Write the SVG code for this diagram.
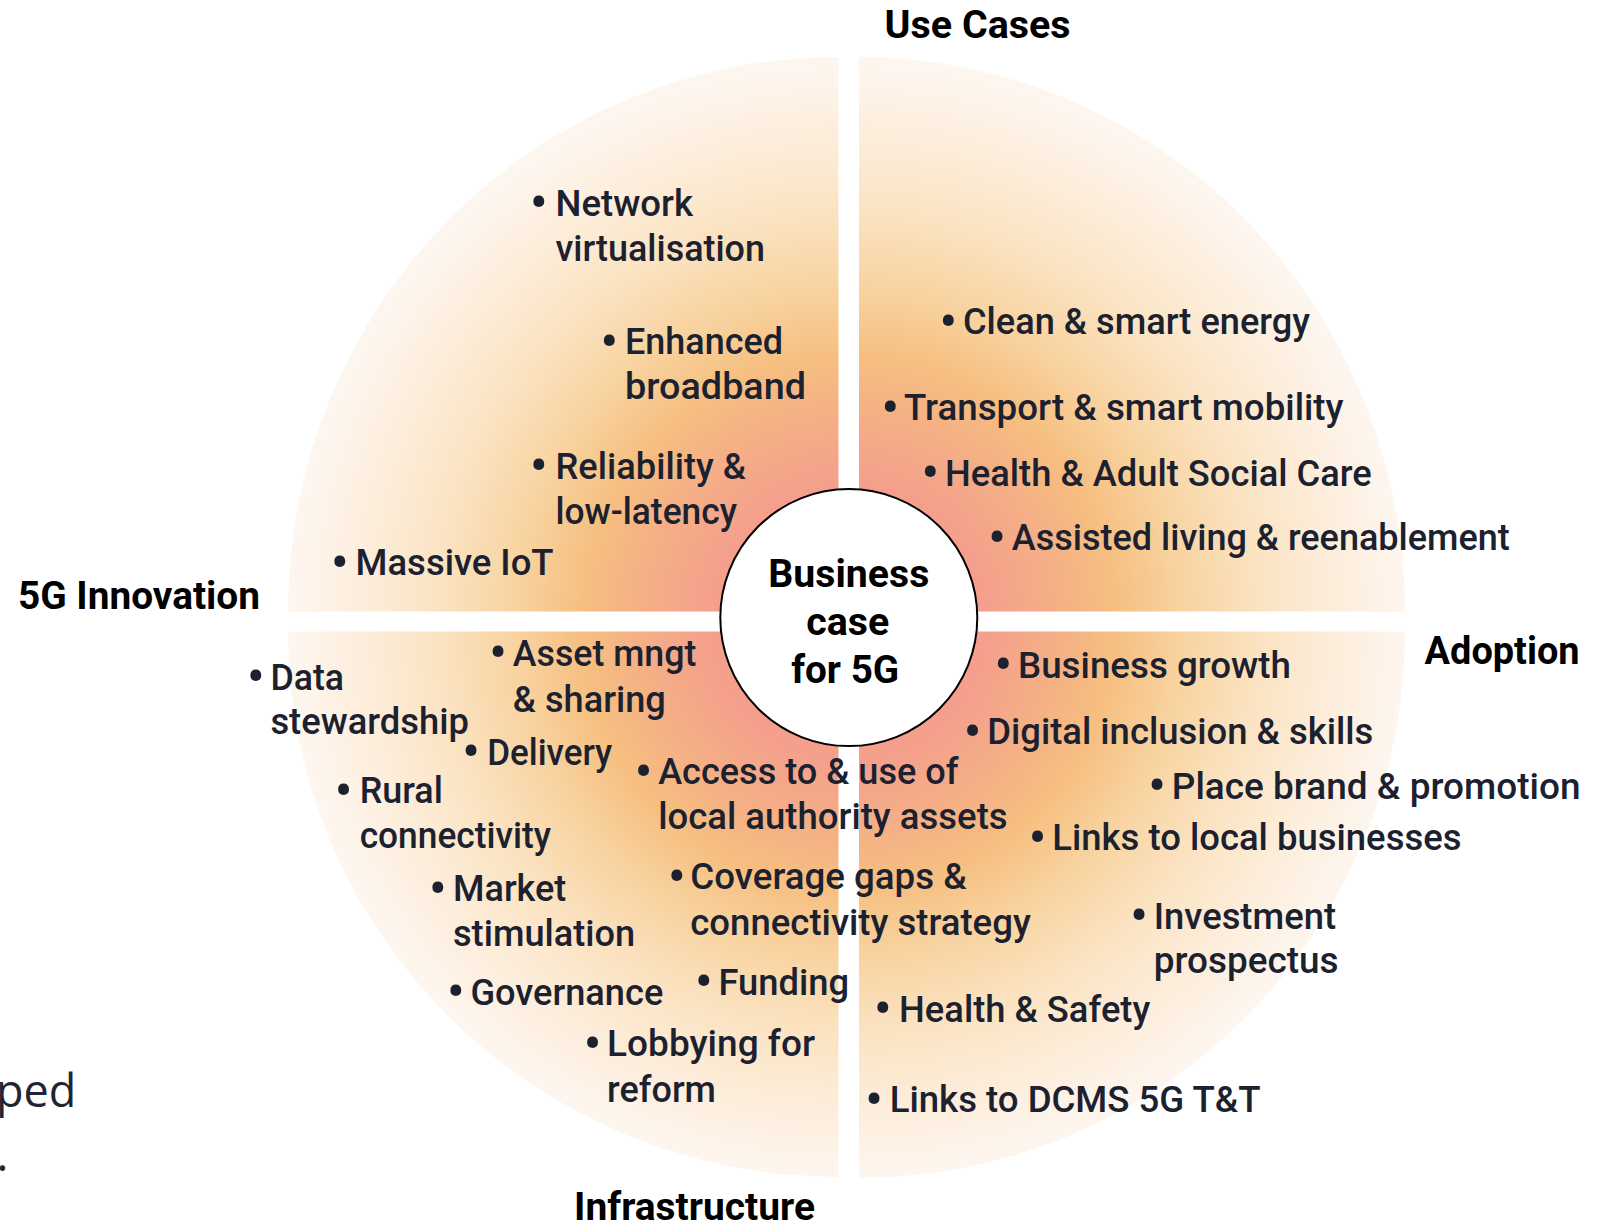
<svg xmlns="http://www.w3.org/2000/svg" width="1604" height="1225" viewBox="0 0 1604 1225">
<defs>
<radialGradient id="fan" gradientUnits="userSpaceOnUse" cx="849" cy="622" r="556">
<stop offset="0" stop-color="#f3968e"/>
<stop offset="0.25" stop-color="#f4a08c"/>
<stop offset="0.38" stop-color="#f5b085"/>
<stop offset="0.48" stop-color="#f6bf80"/>
<stop offset="0.6" stop-color="#f8d3a0"/>
<stop offset="0.75" stop-color="#fbe4c4"/>
<stop offset="0.9" stop-color="#fdefdf"/>
<stop offset="1" stop-color="#fdf6ef"/>
</radialGradient>
<style>
.t{font-family:Roboto,"Liberation Sans",sans-serif;font-size:36.5px;font-weight:500;fill:#1c2130}
.b{font-size:50px}
.h{font-family:Roboto,"Liberation Sans",sans-serif;font-size:38px;font-weight:bold;fill:#000}
.c{font-family:Roboto,"Liberation Sans",sans-serif;font-size:38px;font-weight:bold;fill:#000;text-anchor:middle}
.q{fill:url(#fan)}
.o{font-family:"Open Sans","Noto Sans",sans-serif;font-size:45px;fill:#1f2533}
</style>
</defs>
<rect width="1604" height="1225" fill="#fff"/>
<g id="quadrants">
<path id="q-innovation" class="q" d="M838.5,611.5 L288,611.5 A550.5,554.5 0 0 1 838.5,57 Z"/>
<path id="q-usecases" class="q" d="M859,611.5 L859,57 A546,554.5 0 0 1 1405,611.5 Z"/>
<path id="q-infrastructure" class="q" d="M838.5,631.5 L838.5,1177 A550.5,545.5 0 0 1 288,631.5 Z"/>
<path id="q-adoption" class="q" d="M859,631.5 L1405,631.5 A546,546.5 0 0 1 859,1178 Z"/>
</g>
<g id="connectors"/>
<g id="titles">
<text id="title-usecases" class="h" x="884.6" y="37.6" textLength="186" lengthAdjust="spacingAndGlyphs">Use Cases</text>
<text id="title-innovation" class="h" x="18" y="609" textLength="242" lengthAdjust="spacingAndGlyphs">5G Innovation</text>
<text id="title-adoption" class="h" x="1424.6" y="663.8" textLength="155" lengthAdjust="spacingAndGlyphs">Adoption</text>
<text id="title-infrastructure" class="h" x="574" y="1220" textLength="241" lengthAdjust="spacingAndGlyphs">Infrastructure</text>
</g>
<g id="innovation-items">
<g id="i-network"><text class="t"><tspan class="b" x="530" y="220.1">•</tspan><tspan x="555.5" y="215.5" textLength="137.5" lengthAdjust="spacingAndGlyphs">Network</tspan><tspan x="555.5" y="261" textLength="209.5" lengthAdjust="spacingAndGlyphs">virtualisation</tspan></text></g>
<g id="i-broadband"><text class="t"><tspan class="b" x="600.5" y="358.6">•</tspan><tspan x="625" y="354" textLength="158" lengthAdjust="spacingAndGlyphs">Enhanced</tspan><tspan x="625" y="399.4" textLength="181" lengthAdjust="spacingAndGlyphs">broadband</tspan></text></g>
<g id="i-reliability"><text class="t"><tspan class="b" x="530" y="483.1">•</tspan><tspan x="555.5" y="478.5" textLength="190.5" lengthAdjust="spacingAndGlyphs">Reliability &amp;</tspan><tspan x="555.5" y="524" textLength="181.5" lengthAdjust="spacingAndGlyphs">low-latency</tspan></text></g>
<g id="i-iot"><text class="t"><tspan class="b" x="331" y="579.6">•</tspan><tspan x="355.6" y="575" textLength="198" lengthAdjust="spacingAndGlyphs">Massive IoT</tspan></text></g>
</g>
<g id="usecase-items">
<g id="u-energy"><text class="t"><tspan class="b" x="939.5" y="338.6">•</tspan><tspan x="963" y="334" textLength="347" lengthAdjust="spacingAndGlyphs">Clean &amp; smart energy</tspan></text></g>
<g id="u-transport"><text class="t"><tspan class="b" x="881.5" y="424.6">•</tspan><tspan x="904" y="420" textLength="439.6" lengthAdjust="spacingAndGlyphs">Transport &amp; smart mobility</tspan></text></g>
<g id="u-health"><text class="t"><tspan class="b" x="921.5" y="490.2">•</tspan><tspan x="945" y="485.6" textLength="426.8" lengthAdjust="spacingAndGlyphs">Health &amp; Adult Social Care</tspan></text></g>
<g id="u-assisted"><text class="t"><tspan class="b" x="988.2" y="554.6">•</tspan><tspan x="1011.8" y="550" textLength="498" lengthAdjust="spacingAndGlyphs">Assisted living &amp; reenablement</tspan></text></g>
</g>
<g id="infrastructure-items">
<g id="f-data"><text class="t"><tspan class="b" x="247" y="694.3">•</tspan><tspan x="270.4" y="689.7" textLength="73.6" lengthAdjust="spacingAndGlyphs">Data</tspan><tspan x="270.4" y="733.5" textLength="198.6" lengthAdjust="spacingAndGlyphs">stewardship</tspan></text></g>
<g id="f-asset"><text class="t"><tspan class="b" x="489.3" y="670.4">•</tspan><tspan x="512.8" y="665.8" textLength="183.6" lengthAdjust="spacingAndGlyphs">Asset mngt</tspan><tspan x="512.8" y="711.6" textLength="153" lengthAdjust="spacingAndGlyphs">&amp; sharing</tspan></text></g>
<g id="f-delivery"><text class="t"><tspan class="b" x="462.3" y="769.2">•</tspan><tspan x="487.2" y="764.6" textLength="125" lengthAdjust="spacingAndGlyphs">Delivery</tspan></text></g>
<g id="f-rural"><text class="t"><tspan class="b" x="334.8" y="807.9">•</tspan><tspan x="359.7" y="803.3" textLength="83.2" lengthAdjust="spacingAndGlyphs">Rural</tspan><tspan x="359.7" y="848" textLength="191.3" lengthAdjust="spacingAndGlyphs">connectivity</tspan></text></g>
<g id="f-market"><text class="t"><tspan class="b" x="429.1" y="905.6">•</tspan><tspan x="453" y="901" textLength="113.3" lengthAdjust="spacingAndGlyphs">Market</tspan><tspan x="453" y="946" textLength="182.2" lengthAdjust="spacingAndGlyphs">stimulation</tspan></text></g>
<g id="f-governance"><text class="t"><tspan class="b" x="447" y="1009.1">•</tspan><tspan x="470.4" y="1004.5" textLength="192.9" lengthAdjust="spacingAndGlyphs">Governance</tspan></text></g>
<g id="f-access"><text class="t"><tspan class="b" x="634.8" y="788.6">•</tspan><tspan x="658.2" y="784" textLength="300.3" lengthAdjust="spacingAndGlyphs">Access to &amp; use of</tspan><tspan x="658.2" y="829" textLength="349.4" lengthAdjust="spacingAndGlyphs">local authority assets</tspan></text></g>
<g id="f-coverage"><text class="t"><tspan class="b" x="667.9" y="893.6">•</tspan><tspan x="690.3" y="889" textLength="276.4" lengthAdjust="spacingAndGlyphs">Coverage gaps &amp;</tspan><tspan x="690.3" y="934.8" textLength="340.5" lengthAdjust="spacingAndGlyphs">connectivity strategy</tspan></text></g>
<g id="f-funding"><text class="t"><tspan class="b" x="695" y="999.2">•</tspan><tspan x="718.4" y="994.6" textLength="130.6" lengthAdjust="spacingAndGlyphs">Funding</tspan></text></g>
<g id="f-lobbying"><text class="t"><tspan class="b" x="583.7" y="1061">•</tspan><tspan x="607.1" y="1056.4" textLength="207.9" lengthAdjust="spacingAndGlyphs">Lobbying for</tspan><tspan x="607.1" y="1102.2" textLength="108.9" lengthAdjust="spacingAndGlyphs">reform</tspan></text></g>
</g>
<g id="adoption-items">
<g id="a-growth"><text class="t"><tspan class="b" x="994.4" y="682.3">•</tspan><tspan x="1018" y="677.7" textLength="273" lengthAdjust="spacingAndGlyphs">Business growth</tspan></text></g>
<g id="a-digital"><text class="t"><tspan class="b" x="963.7" y="748.9">•</tspan><tspan x="987.2" y="744.3" textLength="386.1" lengthAdjust="spacingAndGlyphs">Digital inclusion &amp; skills</tspan></text></g>
<g id="a-brand"><text class="t"><tspan class="b" x="1148.3" y="803.1">•</tspan><tspan x="1171.8" y="798.5" textLength="408.7" lengthAdjust="spacingAndGlyphs">Place brand &amp; promotion</tspan></text></g>
<g id="a-links"><text class="t"><tspan class="b" x="1028.8" y="854.9">•</tspan><tspan x="1052.3" y="850.3" textLength="409.2" lengthAdjust="spacingAndGlyphs">Links to local businesses</tspan></text></g>
<g id="a-investment"><text class="t"><tspan class="b" x="1130.3" y="933.4">•</tspan><tspan x="1153.8" y="928.8" textLength="182.2" lengthAdjust="spacingAndGlyphs">Investment</tspan><tspan x="1153.8" y="972.6" textLength="184.7" lengthAdjust="spacingAndGlyphs">prospectus</tspan></text></g>
<g id="a-safety"><text class="t"><tspan class="b" x="874" y="1026.3">•</tspan><tspan x="899" y="1021.7" textLength="251.3" lengthAdjust="spacingAndGlyphs">Health &amp; Safety</tspan></text></g>
<g id="a-dcms"><text class="t"><tspan class="b" x="865.2" y="1116.6">•</tspan><tspan x="889.7" y="1112" textLength="370.8" lengthAdjust="spacingAndGlyphs">Links to DCMS 5G T&amp;T</tspan></text></g>
</g>
<g id="center">
<circle cx="848.8" cy="617.6" r="128.5" fill="#fff" stroke="#000" stroke-width="2"/>
<text class="c" x="848.8" y="586.7" textLength="161" lengthAdjust="spacingAndGlyphs">Business</text>
<text class="c" x="847.7" y="635" textLength="83" lengthAdjust="spacingAndGlyphs">case</text>
<text class="c" x="845.2" y="683" textLength="108" lengthAdjust="spacingAndGlyphs">for 5G</text>
</g>
<g id="fragments">
<text class="o" x="-4" y="1106.7">ped</text>
<text class="o" x="-3.5" y="1171">.</text>
</g>
</svg>
